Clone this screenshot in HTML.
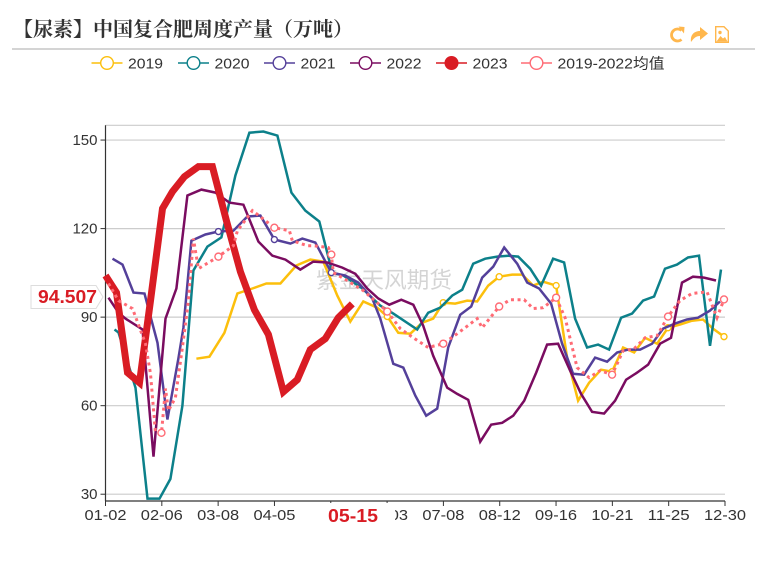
<!DOCTYPE html>
<html lang="zh">
<head>
<meta charset="utf-8">
<title>中国复合肥周度产量</title>
<style>
html,body{margin:0;padding:0;background:#fff;}
#page{position:relative;width:767px;height:575px;overflow:hidden;background:#fff;}
svg{position:absolute;left:0;top:0;}
text{font-family:"Liberation Sans","Noto Sans CJK SC",sans-serif;}
</style>
</head>
<body>
<div id="page">
<svg id="chart" width="767" height="575" viewBox="0 0 767 575" xmlns="http://www.w3.org/2000/svg">
  <text x="13" y="36" font-size="20" font-weight="bold" fill="#333" style="font-family:'Liberation Serif','Noto Serif CJK SC',serif">【尿素】中国复合肥周度产量（万吨）</text>
  <line x1="12" y1="49" x2="755" y2="49" stroke="#aaa" stroke-width="1"/>
  <g fill="none" stroke="#ffb74d" stroke-width="2.8">
    <g>
      <path d="M681.5 30.5 A6 6 0 1 0 681.5 39.5"/>
      <path d="M678.5 26.5 L684.5 27 L684 33.5 Z" fill="#ffb74d" stroke="none"/>
    </g>
    <path d="M691 42 C690 34 695 31 700 31 L700 27 L708 33.5 L700 40 L700 36 C696 36 694 38 691 42 Z" fill="#ffb74d" stroke="none"/>
    <g>
      <path d="M715.7 26.7 H724 L728.3 31 V42.3 H715.7 Z" stroke-width="1.4"/>
      <path d="M716.5 41.5 L720.5 36 L723 38.5 L725 37 L727.5 41.5 Z" fill="#ffb74d" stroke="none"/>
      <circle cx="720" cy="32.5" r="1.7" fill="#ffb74d" stroke="none"/>
    </g>
  </g>
  <g id="legend"></g>
  <g id="grid"></g>
  <text x="384" y="288" font-size="22.7" text-anchor="middle" fill="#000" fill-opacity="0.17" style="font-family:'Noto Sans CJK SC',sans-serif">紫金天风期货</text>
  <g id="axes"></g>
  <g id="series"></g>
  <rect x="309" y="503" width="86" height="27" fill="#fff"/>
  <text x="353" y="522" font-size="18" font-weight="bold" text-anchor="middle" fill="#d91c24" textLength="50" lengthAdjust="spacingAndGlyphs">05-15</text>
  <path d="M31 285.5 H96 L103 297 L96 308.5 H31 Z" fill="#fff" stroke="#ddd"/>
  <text x="67.5" y="303" font-size="18" font-weight="bold" text-anchor="middle" fill="#d91c24" textLength="59" lengthAdjust="spacingAndGlyphs">94.507</text>
</svg>
</div>
<script>
const tickLabels = ['01-02','02-06','03-08','04-05','05-10','06-03','07-08','08-12','09-16','10-21','11-25','12-30'];
const yTicks = [30, 60, 90, 120, 150];
const seasonSpan = 620;
const valueMin = 27.7;
const valueMax = 155;

const names = ['2019', '2020', '2021', '2022', '2023', '2019-2022均值'];

const t2019 = [91,104,119,132,147,161,175,191,205,218,232,245,258,272,282,293,305,317,328,338,350,362,372,383,394,407,417,428,438,451,462,473,484,496,507,518,529,540,552,563,575,587,598,608,619];
const v2019 = [75.9,76.6,84.7,98,99.7,101.4,101.4,107.5,109.5,108.8,97.3,88.5,95.3,93.2,90.2,84.7,84.4,88.1,89.5,94.9,94.6,95.6,95.3,100.7,103.7,104.4,104.4,100.7,102,100.7,76.3,61.7,67.8,72.2,71.5,79.7,78,83,81,86.4,87.5,88.8,89.2,86.1,83.4];

const t2020 = [9,13,30,42,54,65,77,88,102,116,130,144,158,172,186,200,214,227,238,257,275,288,312,323,335,347,357,368,380,392,403,413,425,436,448,459,470,482,493,504,516,527,538,549,560,572,583,594,605,616];
const v2020 = [85.8,84.8,66.1,28.5,28.5,35.2,60,105.8,113.9,117,138,152.5,152.9,151.5,132.2,126.1,122.4,105.1,104.1,99.7,93.9,91.2,85.8,91.5,93.2,97.3,99.3,108.1,109.8,110.5,110.8,110.5,106.4,100.7,109.8,108.5,89.5,79.7,80.7,79,89.8,91.2,95.6,97,106.4,107.8,110.2,110.8,80.3,106.1];

const t2021 = [7,17,28,39,44,52,62,73,78,86,100,113,128,142,155,169,185,197,210,226,240,253,267,275,288,298,310,321,332,343,355,366,377,388,399,412,422,434,446,457,468,479,490,502,512,523,535,547,558,570,582,593,605,615];
const v2021 = [109.8,107.8,98.3,98,91.5,81.3,55.3,76,86.4,115.9,118,119,119.3,124.1,124.4,116.3,114.9,116.6,115.3,105.1,104.1,101.7,96.3,89.5,74.2,72.9,63.4,56.6,59,79.7,90.8,93.6,103.4,107.1,113.6,108.1,101.7,99.7,94.6,81,70.8,70.5,76.3,74.9,78,79,79,81,86.1,87.8,89.2,89.8,92.2,95.3];

const t2022 = [3,13,20,37,48,60,71,82,96,110,124,138,153,167,180,195,208,222,237,250,262,273,284,296,308,318,328,342,352,363,375,386,397,408,419,431,442,453,465,476,487,499,510,521,532,543,555,566,577,588,599,611];
const v2022 = [96.6,91.5,89.5,85.8,42.7,89.5,99.7,131.2,133.2,132.2,128.8,128.1,115.6,110.8,109.5,106.1,108.8,108.5,106.8,104.7,99.7,96.3,94.2,95.9,94.2,87.1,76.9,66.1,64,62,47.8,53.6,54.2,56.6,61.7,71.2,80.7,81,71.9,64,57.9,57.3,61.7,68.8,71.2,73.9,81,83,101.7,103.7,103.4,102.4];

const t2023 = [0,11,22,34,45,57,67,79,93,107,121,135,149,163,178,192,205,220,233,247];
const v2023 = [104.1,98.3,71.2,67.8,95.6,126.8,132.5,137.6,141,141,122.7,105.4,92.5,84.1,64.7,68.8,79,82.7,89.8,94.5];

const tAvg = [3,13,27,40,45,50,56,60,63,70,77,83,88,93,113,128,132,147,169,184,187,202,208,223,226,228,242,258,282,295,308,323,338,352,372,377,394,405,419,428,438,451,460,472,484,495,507,518,529,540,552,563,575,587,602,612,619];
const vAvg = [101.4,95.6,92.9,81,70.8,50.8,50.8,65.8,58.3,62.7,79.7,95.6,116.6,106.4,110.5,114.2,119.3,126.1,120.3,119.3,115.9,114.2,114.2,113.6,111.2,105.1,102.4,99,91.9,86.1,83,79.7,81,84.4,89.5,86.4,93.6,95.9,95.9,92.9,93.2,96.6,89.8,72.9,69.5,71.9,70.5,78.6,79.3,83,83.7,90.2,95.6,98,98.6,89.8,96];

const NS = 'http://www.w3.org/2000/svg';
const plotLeft = 105.5, plotRight = 725, plotTop = 125.3, plotBottom = 501;
function xScale(t) { return plotLeft + (t / seasonSpan) * (plotRight - plotLeft); }
function yScale(v) { return plotBottom - (v - valueMin) / (valueMax - valueMin) * (plotBottom - plotTop); }
function tickT(i) { return i * seasonSpan / (tickLabels.length - 1); }
function make(tag, attrs, parent) {
  const el = document.createElementNS(NS, tag);
  for (const k in attrs) el.setAttribute(k, attrs[k]);
  parent.appendChild(el);
  return el;
}

const grid = document.getElementById('grid');
const axes = document.getElementById('axes');
const topLine = make('line', {x1: plotLeft, x2: plotRight, y1: yScale(valueMax), y2: yScale(valueMax), stroke: '#ccc', 'stroke-width': 1.2}, grid);



yTicks.forEach(function (v) {
  const y = yScale(v);
  const g = make('line', {x1: plotLeft, x2: plotRight, y1: y, y2: y, stroke: '#ccc', 'stroke-width': 1.2}, grid);
  
  
  const tk = make('line', {x1: plotLeft - 5, x2: plotLeft, y1: y, y2: y, stroke: '#333'}, axes);
  
  
  const lb = make('text', {x: plotLeft - 8, y: y + 4.8, 'font-size': 15, 'text-anchor': 'end', fill: '#333'}, axes);
  
  
  lb.textContent = v;
});

const yAxisLine = make('line', {x1: plotLeft, x2: plotLeft, y1: plotTop, y2: plotBottom, stroke: '#333', 'stroke-width': 1.2}, axes);


const xAxisLine = make('line', {x1: plotLeft, x2: plotRight, y1: plotBottom, y2: plotBottom, stroke: '#333', 'stroke-width': 1.2}, axes);



tickLabels.forEach(function (label, i) {
  const x = xScale(tickT(i));
  const tk = make('line', {x1: x, x2: x, y1: plotBottom, y2: plotBottom + 5, stroke: '#333'}, axes);
  
  
  const lb = make('text', {x: x, y: 520, 'font-size': 15, 'text-anchor': 'middle', fill: '#333', textLength: 42, lengthAdjust: 'spacingAndGlyphs'}, axes);
  
  
  lb.textContent = label;
});

const seriesList = [
  {name: names[0], t: t2019, v: v2019, color: '#fcbf0c', width: 2.5, marks: true},
  {name: names[1], t: t2020, v: v2020, color: '#0c808a', width: 2.5, marks: true},
  {name: names[2], t: t2021, v: v2021, color: '#54409a', width: 2.5, marks: true},
  {name: names[3], t: t2022, v: v2022, color: '#7a0c60', width: 2.5, marks: true},
  {name: names[4], t: t2023, v: v2023, color: '#d91c24', width: 7, marks: false},
  {name: names[5], t: tAvg, v: vAvg, color: '#ff6b75', width: 3, dash: '3 3.6', marks: true}
];

const seriesRoot = document.getElementById('series');
seriesList.forEach(function (s) {
  const pts = s.t.map(function (t, i) { return xScale(t).toFixed(1) + ',' + yScale(s.v[i]).toFixed(1); }).join(' ');
  const line = make('polyline', {points: pts, fill: 'none', stroke: s.color, 'stroke-width': s.width, 'stroke-linejoin': 'miter', 'stroke-miterlimit': 6}, seriesRoot);
  
  
  if (s.dash) line.setAttribute('stroke-dasharray', s.dash);
  if (!s.marks) return;
  s.t.forEach(function (t, i) {
    let hit = false;
    tickLabels.forEach(function (_, k) { if (Math.abs(tickT(k) - t) < 1.4) hit = true; });
    if (!hit) return;
    const c = make('circle', {cx: xScale(t), cy: yScale(s.v[i]), r: s.dash ? 3.5 : 3, fill: '#fff', stroke: s.color, 'stroke-width': 1.4}, seriesRoot);
    
    
  });
});

const legendRoot = document.getElementById('legend');
const legendIconX = [91.5, 178, 264, 350, 436, 521];
const legendTextWidth = [35, 35, 35, 35, 35, 107];
seriesList.forEach(function (s, i) {
  const x0 = legendIconX[i];
  const g = make('g', {}, legendRoot);
  
  
  make('line', {x1: x0, x2: x0 + 31, y1: 63, y2: 63, stroke: s.color, 'stroke-width': 1.6}, g);
  make('circle', {cx: x0 + 15.5, cy: 63, r: 6.3, fill: i === 4 ? s.color : '#fff', stroke: s.color, 'stroke-width': 1.4}, g);
  const t = make('text', {x: x0 + 36.5, y: 68.5, 'font-size': 15, fill: '#333', textLength: legendTextWidth[i], lengthAdjust: 'spacingAndGlyphs'}, g);
  t.textContent = s.name;
});
</script>
</body>
</html>
